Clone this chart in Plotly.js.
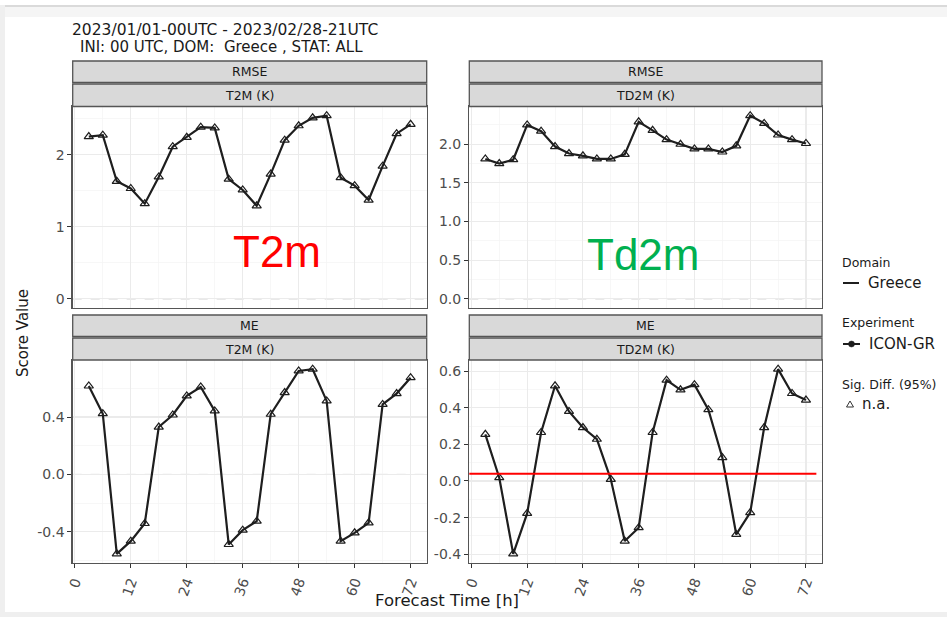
<!DOCTYPE html>
<html>
<head>
<meta charset="utf-8">
<script src="https://cdn.plot.ly/plotly-3.0.1.min.js"></script>
<style>html,body{margin:0;padding:0;background:#fff;}#chart{width:947px;height:617px;}</style>
</head>
<body>
<div id="chart"></div>
<script>
// ---- data ----
const hours = [3,6,9,12,15,18,21,24,27,30,33,36,39,42,45,48,51,54,57,60,63,66,69,72];
const t2mRmse = [2.25,2.27,1.63,1.53,1.32,1.69,2.11,2.24,2.38,2.37,1.66,1.51,1.29,1.73,2.20,2.40,2.51,2.54,1.68,1.57,1.37,1.84,2.29,2.42];
const td2mRmse = [1.81,1.75,1.80,2.25,2.17,1.97,1.88,1.85,1.81,1.81,1.87,2.29,2.18,2.06,2.00,1.94,1.94,1.90,1.98,2.37,2.27,2.12,2.06,2.01];
const t2mMe = [0.616,0.423,-0.553,-0.465,-0.342,0.330,0.414,0.547,0.609,0.442,-0.488,-0.388,-0.326,0.419,0.570,0.721,0.733,0.512,-0.465,-0.407,-0.337,0.488,0.563,0.674];
const td2mMe = [0.255,0.018,-0.398,-0.177,0.265,0.520,0.380,0.292,0.228,0.009,-0.328,-0.255,0.265,0.551,0.498,0.526,0.390,0.128,-0.292,-0.173,0.292,0.611,0.478,0.442];
const xTicks = [0,12,24,36,48,60,72];
const xMinor = [6,18,30,42,54,66];
const redLineLevel = 0.04;

const W = 947, H = 617;
const px = x => x / W;
const py = y => 1 - y / H;
const FONT = 'DejaVu Sans, Arial, sans-serif';
const ink = '#1e1e1e';

function trace(y, xa, ya) {
  return {
    x: hours, y: y, xaxis: xa, yaxis: ya, type: 'scatter', mode: 'lines+markers',
    line: {color: ink, width: 2.2},
    marker: {symbol: 'triangle-up-open', size: 8, color: ink, line: {width: 1.2, color: ink}},
    showlegend: false, hoverinfo: 'x+y'
  };
}

const data = [
  trace(t2mRmse, 'x', 'y'),
  trace(td2mRmse, 'x2', 'y2'),
  trace(t2mMe, 'x3', 'y3'),
  trace(td2mMe, 'x4', 'y4')
];

const leftDom = [px(72.7), px(426.7)];
const rightDom = [px(469.3), px(822)];
const topDom = [py(308), py(106.5)];
const botDom = [py(563), py(360)];

const gridCol = '#ebebeb';
function xax(domain, anchor, labels) {
  return {
    domain: domain, anchor: anchor, range: [-0.45, 75.45],
    tickvals: xTicks, ticktext: xTicks.map(String),
    showticklabels: labels, ticks: labels ? 'outside' : '', ticklen: 4, tickwidth: 1, tickcolor: '#333',
    tickangle: -70, tickfont: {family: FONT, size: 14, color: '#4d4d4d'},
    showgrid: true, gridcolor: gridCol, gridwidth: 1.1,
    minor: {tickvals: xMinor, showgrid: true, gridcolor: '#f3f3f3', gridwidth: 0.7, ticks: ''},
    zeroline: false, showline: true, mirror: true, linecolor: '#555', linewidth: 1.3,
    fixedrange: true
  };
}
function yax(domain, anchor, range, vals, texts, minor) {
  return {
    domain: domain, anchor: anchor, range: range,
    tickvals: vals, ticktext: texts,
    ticks: 'outside', ticklen: 4, tickwidth: 1, tickcolor: '#333',
    tickfont: {family: FONT, size: 14, color: '#4d4d4d'},
    showgrid: true, gridcolor: gridCol, gridwidth: 1.1,
    minor: {tickvals: minor, showgrid: true, gridcolor: '#f3f3f3', gridwidth: 0.7, ticks: ''},
    zeroline: false, showline: true, mirror: true, linecolor: '#555', linewidth: 1.3,
    fixedrange: true
  };
}

const shapes = [];
const annotations = [];

// frame around the picture
shapes.push({type:'rect', xref:'paper', yref:'paper', x0:px(0), x1:px(5), y0:py(617), y1:py(5), fillcolor:'#efefef', line:{width:0}, layer:'below'});
shapes.push({type:'rect', xref:'paper', yref:'paper', x0:px(0), x1:px(947), y0:py(617), y1:py(612), fillcolor:'#efefef', line:{width:0}, layer:'below'});
shapes.push({type:'rect', xref:'paper', yref:'paper', x0:px(5), x1:px(947), y0:py(17), y1:py(7), fillcolor:'#f5f5f5', line:{width:0}, layer:'below'});
shapes.push({type:'rect', xref:'paper', yref:'paper', x0:px(5), x1:px(947), y0:py(7), y1:py(5), fillcolor:'#dadada', line:{width:0}, layer:'below'});

// strips
function strip(x0, x1, y0, y1, label) {
  shapes.push({type:'rect', xref:'paper', yref:'paper', x0:px(x0), x1:px(x1), y0:py(y1), y1:py(y0), fillcolor:'#d9d9d9', line:{color:'#555', width:1.3}});
  annotations.push({xref:'paper', yref:'paper', x:px((x0+x1)/2), y:py((y0+y1)/2), text:label, showarrow:false, xanchor:'center', yanchor:'middle', font:{family:FONT, size:12.5, color:'#1a1a1a'}});
}
strip(72.7, 426.7, 61, 82.5, 'RMSE');
strip(72.7, 426.7, 84, 106.5, 'T2M (K)');
strip(469.3, 822, 61, 82.5, 'RMSE');
strip(469.3, 822, 84, 106.5, 'TD2M (K)');
strip(72.7, 426.7, 315, 336.5, 'ME');
strip(72.7, 426.7, 338, 360, 'T2M (K)');
strip(469.3, 822, 315, 336.5, 'ME');
strip(469.3, 822, 338, 360, 'TD2M (K)');

// dashed zero lines
[['x','y'],['x2','y2'],['x3','y3'],['x4','y4']].forEach(([xa,ya]) => {
  shapes.push({type:'line', xref: xa + ' domain', yref: ya, x0:0, x1:1, y0:0, y1:0, line:{color:'#bdbdbd', width:1, dash:'dash'}, layer:'below'});
});

// red reference line (overlay on the TD2M ME panel)
shapes.push({type:'line', xref:'x4 domain', yref:'y4', x0:0, x1:0.984, y0:redLineLevel, y1:redLineLevel, line:{color:'#ff0000', width:2}});

// overlay labels
annotations.push({xref:'paper', yref:'paper', x:px(277), y:py(252), text:'T2m', showarrow:false, xanchor:'center', yanchor:'middle', font:{family:'Liberation Sans, Arial, sans-serif', size:44, color:'#ff0000'}});
annotations.push({xref:'paper', yref:'paper', x:px(643), y:py(254), text:'Td2m', showarrow:false, xanchor:'center', yanchor:'middle', font:{family:'Liberation Sans, Arial, sans-serif', size:44, color:'#00b050'}});

// axis titles
annotations.push({xref:'paper', yref:'paper', x:px(447), y:py(600), text:'Forecast Time [h]', showarrow:false, xanchor:'center', yanchor:'middle', font:{family:FONT, size:16.5, color:'#1a1a1a'}});
annotations.push({xref:'paper', yref:'paper', x:px(23), y:py(333), text:'Score Value', textangle:-90, showarrow:false, xanchor:'center', yanchor:'middle', font:{family:FONT, size:15, color:'#1a1a1a'}});

// legend (drawn as text + glyphs)
const legTitle = {family:FONT, size:12.5, color:'#1a1a1a'};
const legText = {family:FONT, size:15, color:'#1a1a1a'};
function legAnn(x, y, text, font) {
  annotations.push({xref:'paper', yref:'paper', x:px(x), y:py(y), text:text, showarrow:false, xanchor:'left', yanchor:'middle', font:font});
}
legAnn(840, 263, 'Domain', legTitle);
shapes.push({type:'line', xref:'paper', yref:'paper', x0:px(843), x1:px(859), y0:py(283), y1:py(283), line:{color:ink, width:2}});
legAnn(866, 283, 'Greece', legText);
legAnn(840, 322, 'Experiment', legTitle);
shapes.push({type:'line', xref:'paper', yref:'paper', x0:px(843), x1:px(860), y0:py(344), y1:py(344), line:{color:ink, width:2}});
shapes.push({type:'circle', xref:'paper', yref:'paper', x0:px(848.5), x1:px(854.5), y0:py(347), y1:py(341), fillcolor:ink, line:{color:ink, width:0.5}});
legAnn(867, 344, 'ICON-GR', legText);
legAnn(840, 384, 'Sig. Diff. (95%)', legTitle);
shapes.push({type:'path', xref:'paper', yref:'paper', path:`M ${px(846.5)} ${py(407)} L ${px(853.5)} ${py(407)} L ${px(850)} ${py(401)} Z`, line:{color:'#333', width:1}});
legAnn(860, 404, 'n.a.', legText);

// second title line
annotations.push({xref:'paper', yref:'paper', x:px(78), y:py(47.5), text:'INI: 00 UTC, DOM:\u00a0 Greece , STAT: ALL', showarrow:false, xanchor:'left', yanchor:'middle', font:{family:FONT, size:15, color:'#1a1a1a'}});

const layout = {
  width: W, height: H,
  margin: {l:0, r:0, t:0, b:0},
  paper_bgcolor: '#ffffff', plot_bgcolor: '#ffffff',
  showlegend: false,
  title: {
    text: '2023/01/01-00UTC - 2023/02/28-21UTC',
    x: px(72), xanchor: 'left', xref: 'paper',
    y: py(29.5), yanchor: 'middle', yref: 'container',
    font: {family: FONT, size: 15.5, color: '#1a1a1a'}
  },
  xaxis: xax(leftDom, 'y', false),
  yaxis: yax(topDom, 'x', [-0.127, 2.667], [0,1,2], ['0','1','2'], [0.5,1.5,2.5]),
  xaxis2: xax(rightDom, 'y2', false),
  yaxis2: yax(topDom, 'x2', [-0.1185, 2.4885], [0,0.5,1,1.5,2], ['0.0','0.5','1.0','1.5','2.0'], [0.25,0.75,1.25,1.75,2.25]),
  xaxis3: xax(leftDom, 'y3', true),
  yaxis3: yax(botDom, 'x3', [-0.617, 0.797], [-0.4,0,0.4], ['-0.4','0.0','0.4'], [-0.6,-0.2,0.2,0.6]),
  xaxis4: xax(rightDom, 'y4', true),
  yaxis4: yax(botDom, 'x4', [-0.448, 0.661], [-0.4,-0.2,0,0.2,0.4,0.6], ['-0.4','-0.2','0.0','0.2','0.4','0.6'], [-0.3,-0.1,0.1,0.3,0.5]),
  shapes: shapes,
  annotations: annotations
};

Plotly.newPlot('chart', data, layout, {displayModeBar: false, staticPlot: true});
</script>
</body>
</html>
